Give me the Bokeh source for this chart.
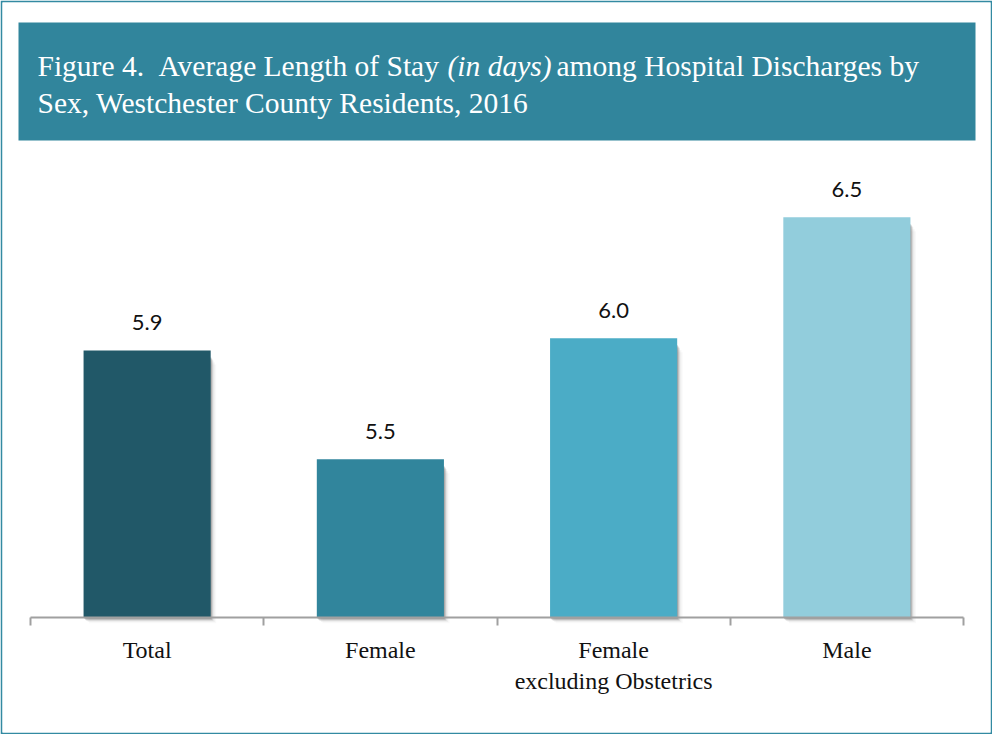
from bokeh.plotting import figure
from bokeh.models import (ColumnDataSource, FixedTicker, BoxAnnotation, Label,
                          CustomJSTickFormatter)
from bokeh.embed import file_html
from bokeh.resources import INLINE
from bokeh.core.properties import value

# ---------------- data ----------------
categories = ["Total", "Female", "Female\nexcluding Obstetrics", "Male"]
avg_stay = [5.949, 5.5, 6.0, 6.5]
bar_colors = ["#215868", "#31859C", "#4BACC6", "#92CDDC"]
title_pieces = [("Figure 4.", "normal"), ("Average Length of Stay", "normal"),
                ("(in days)", "italic"), ("among Hospital Discharges by", "normal")]
title_line2 = "Sex, Westchester County Residents, 2016"

W, H = 992, 734
B = 2                        # outer border width (px)
AXIS_Y = 617                 # axis line position (px from top)
AX_L, AX_R = 30, 963         # axis extent (px)
CAT_W = (AX_R - AX_L) / len(categories)
PX_PER_UNIT = 242.0

y_base = 4.846
y_start = y_base - (H - B - AXIS_Y) / PX_PER_UNIT
y_end = y_base + (AXIS_Y - B) / PX_PER_UNIT
x_start = -0.5 - (AX_L - B) / CAT_W
x_end = len(categories) - 0.5 + (W - B - AX_R) / CAT_W

xs = list(range(len(categories)))
labels = [f"{v:.1f}" for v in avg_stay]
src = ColumnDataSource(dict(x=xs, top=avg_stay, color=bar_colors, label=labels))

p = figure(width=W, height=H, output_backend="svg", toolbar_location=None,
           x_range=(x_start, x_end), y_range=(y_start, y_end),
           min_border_left=B, min_border_right=B,
           min_border_top=B, min_border_bottom=B)
p.outline_line_color = None
p.grid.visible = False
p.yaxis.visible = False
p.background_fill_color = "white"
p.border_fill_color = "#338AA2"   # acts as the teal frame around the chart

bar_w = 0.545
# soft shadow behind bars (right / lower side)
px_x = 1.0 / CAT_W
px_y = 1.0 / PX_PER_UNIT
for k, a in [(1, 0.30), (2, 0.22), (3, 0.16), (4, 0.11), (6, 0.07), (8, 0.04)]:
    p.vbar(x=[x + k * px_x * 0.7 for x in xs], width=bar_w,
           top=[t - (6 + k) * px_y for t in avg_stay],
           bottom=y_base - (1 + 0.6 * k) * px_y,
           fill_color="#6f6f6f", fill_alpha=a, line_color=None)

p.vbar(x="x", top="top", bottom=y_base, width=bar_w, source=src,
       fill_color="color", line_color=None)

p.text(x="x", y="top", text="label", source=src, y_offset=-28,
       text_align="center", text_baseline="alphabetic",
       text_font=value("Lato"), text_font_size="22px", text_color="#111111")

# x axis: drawn at the bars' base, labels at bar centres,
# small ticks at category boundaries
ax = p.xaxis[0]
ax.fixed_location = y_base
ax.bounds = (-0.5, len(categories) - 0.5)
ax.ticker = FixedTicker(ticks=xs, minor_ticks=[i - 0.5 for i in range(len(categories) + 1)])
ax.formatter = CustomJSTickFormatter(args=dict(cats=categories),
                                     code="return cats[Math.round(tick)];")
ax.major_tick_line_color = None
ax.major_tick_out = 0
ax.major_tick_in = 0
ax.minor_tick_line_color = "#a0a0a0"
ax.minor_tick_line_width = 2
ax.minor_tick_out = 8
ax.minor_tick_in = 0
ax.axis_line_color = "#a0a0a0"
ax.axis_line_width = 2
ax.major_label_standoff = 11
ax.major_label_text_font = "Liberation Serif"
ax.major_label_text_font_size = "24px"
ax.major_label_text_color = "#111111"

# title banner
banner = BoxAnnotation(left=18, right=975, top=22, bottom=140,
                       left_units="canvas", right_units="canvas",
                       top_units="canvas", bottom_units="canvas",
                       fill_color="#31859C", fill_alpha=1, line_color=None,
                       level="overlay")
p.add_layout(banner)

tfont = "Liberation Serif"
tsize = "29.5px"
title_x = [37, 158, 447, 556]
for (txt, style), x in zip(title_pieces, title_x):
    p.add_layout(Label(x=x, y=65, x_units="canvas", y_units="canvas",
                       text=txt, text_font=tfont, text_font_size=tsize,
                       text_font_style=style, text_color="white",
                       text_baseline="alphabetic", text_align="left",
                       level="overlay"))
p.add_layout(Label(x=37, y=102, x_units="canvas", y_units="canvas",
                   text=title_line2, text_font=tfont, text_font_size=tsize,
                   text_color="white", text_baseline="alphabetic",
                   text_align="left", level="overlay"))

open("out.html", "w").write(file_html(p, INLINE))
